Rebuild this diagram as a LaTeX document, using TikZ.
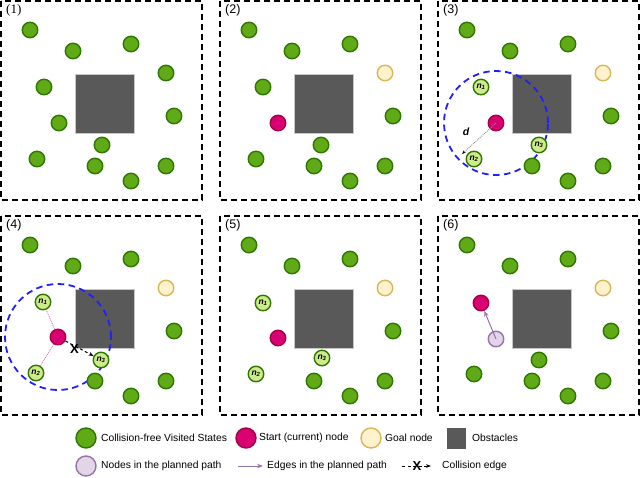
\documentclass[tikz,border=0pt]{standalone}
\usepackage{fontspec}
\setmainfont{Liberation Serif}
\setsansfont{Liberation Sans}
\usetikzlibrary{calc,arrows.meta}

\definecolor{vgreen}{HTML}{60A917}
\definecolor{vgreenD}{HTML}{2D7600}
\definecolor{ngreen}{HTML}{CDEB8B}
\definecolor{startc}{HTML}{D80073}
\definecolor{startD}{HTML}{A50040}
\definecolor{goalc}{HTML}{FFF2CC}
\definecolor{goalD}{HTML}{D6B656}
\definecolor{pathc}{HTML}{E1D5E7}
\definecolor{pathD}{HTML}{9673A6}
\definecolor{obst}{HTML}{595959}
\definecolor{rangeblue}{HTML}{1F1FFF}

\tikzset{
  statenode/.style={circle,draw,line width=1.4pt,minimum size=15.5pt,inner sep=0pt},
  visited/.style={statenode,draw=vgreenD,fill=vgreen},
  startnode/.style={statenode,draw=startD,fill=startc},
  goalnode/.style={statenode,draw=goalD,fill=goalc},
  pathnode/.style={statenode,draw=pathD,fill=pathc},
  nearnode/.style={statenode,draw=vgreenD,fill=ngreen,
    font=\sffamily\bfseries\itshape\fontsize{8.5}{8.5}\selectfont},
  obstacle/.style={draw=black!22,line width=0.8pt,fill=obst,minimum size=59pt,inner sep=0pt},
  panel/.style={line width=1.8pt,dash pattern=on 6pt off 4pt},
  reach/.style={rangeblue,line width=1.8pt,dash pattern=on 6.5pt off 4.5pt},
  tag/.style={anchor=west,inner sep=0pt,font=\sffamily\fontsize{12.5}{12.5}\selectfont},
  legtext/.style={anchor=west,inner sep=0pt,font=\sffamily\fontsize{10.3}{12}\selectfont},
  crossmark/.style={inner sep=0pt,font=\sffamily\bfseries\fontsize{13}{13}\selectfont},
}

\begin{document}
\begin{tikzpicture}[x=1pt,y=-1pt]
  \useasboundingbox (0,0) rectangle (640,477);

  % frames and obstacles
  \foreach \px/\py/\k in {0/0/1,219/0/2,437/0/3,0/215/4,219/215/5,437/215/6}{
    \draw[panel] (\px+1,\py+1) rectangle (\px+202,\py+200);
    \node[obstacle] (obs\k) at (\px+104.5,\py+103.5) {};
  }
  \node[tag,font=\rmfamily\fontsize{13}{13}\selectfont] (tag1) at (6,10) {(1)};
  \node[tag] (tag2) at (225,10) {(2)};
  \node[tag] (tag3) at (443,10) {(3)};
  \node[tag] (tag4) at (6,225) {(4)};
  \node[tag] (tag5) at (225,225) {(5)};
  \node[tag] (tag6) at (443,225) {(6)};

  % (1)
  \foreach \x/\y [count=\i] in {30/30,73/51,131/44,166/73,44/87,174/116,
      59/123,102/145,37/159,95/166,166/166,131/181}
    \node[visited] (a\i) at (\x,\y) {};

  % (2)
  \begin{scope}[shift={(219,0)}]
    \foreach \x/\y [count=\i] in {30/30,73/51,131/44,44/87,174/116,
        102/145,37/159,95/166,166/166,131/181}
      \node[visited] (b\i) at (\x,\y) {};
    \node[goalnode] (goal2) at (166,73) {};
    \node[startnode] (start2) at (59,123) {};
  \end{scope}

  % (3)
  \begin{scope}[shift={(437,0)}]
    \coordinate (c0) at (59,123);
    \draw[reach] (c0) circle[radius=52pt];
    \foreach \x/\y [count=\i] in {30/30,73/51,131/44,174/116,95/166,166/166,131/181}
      \node[visited] (c\i) at (\x,\y) {};
    \node[goalnode] (goal3) at (166,73) {};
    \node[nearnode] (n1c) at (44,87) {n\textsubscript{1}};
    \node[nearnode] (n2c) at (37,159) {n\textsubscript{2}};
    \node[nearnode] (n3c) at (102,145) {n\textsubscript{3}};
    \node[startnode] (start3) at (c0) {};
    \coordinate (rad3) at ($(start3.center)+(-34,31)$);
    \draw[black!45,densely dotted,line width=0.9pt,-{Stealth[length=4pt,black]}]
      (start3.center) -- (rad3);
    \node[font=\sffamily\bfseries\itshape\fontsize{10.5}{10.5}\selectfont] (dlab) at (29,132) {d};
  \end{scope}

  % (4)
  \begin{scope}[shift={(0,215)}]
    \coordinate (d0) at (58,122);
    \draw[reach] (d0) circle[radius=53pt];
    \foreach \x/\y [count=\i] in {30/30,73/51,131/44,174/116,95/166,166/166,131/181}
      \node[visited] (d\i) at (\x,\y) {};
    \node[goalnode] (goal4) at (166,73) {};
    \node[nearnode] (n1d) at (43,87) {n\textsubscript{1}};
    \node[nearnode] (n2d) at (36,158) {n\textsubscript{2}};
    \node[nearnode] (n3d) at (101,145) {n\textsubscript{3}};
    \node[startnode] (start4) at (d0) {};
    \draw[startc!55,densely dotted,line width=0.9pt] (start4) -- (n1d);
    \draw[startc!55,densely dotted,line width=0.9pt] (start4) -- (n2d);
    \draw[line width=1pt,dash pattern=on 3pt off 2.5pt,-{Stealth[length=5pt]}]
      (start4) -- node[crossmark,pos=0.32,below=-2pt] (x4) {X} (n3d);
  \end{scope}

  % (5)
  \begin{scope}[shift={(219,215)}]
    \foreach \x/\y [count=\i] in {30/30,73/51,131/44,174/116,95/166,166/166,131/181}
      \node[visited] (e\i) at (\x,\y) {};
    \node[goalnode] (goal5) at (166,73) {};
    \node[nearnode] (n1e) at (44,88) {n\textsubscript{1}};
    \node[nearnode] (n2e) at (37,159) {n\textsubscript{2}};
    \node[nearnode] (n3e) at (103,143) {n\textsubscript{3}};
    \node[startnode] (start5) at (59,123) {};
  \end{scope}

  % (6)
  \begin{scope}[shift={(437,215)}]
    \foreach \x/\y [count=\i] in {30/30,73/51,131/44,174/116,102/145,37/159,
        95/166,166/166,131/181}
      \node[visited] (f\i) at (\x,\y) {};
    \node[goalnode] (goal6) at (166,73) {};
    \node[startnode] (start6) at (44,88) {};
    \node[pathnode] (path6) at (59,124) {};
    \draw[pathD,line width=1pt,-{Stealth[length=6pt]}] (path6.center) -- (start6);
  \end{scope}

  % legend
  \node[visited,minimum size=20pt] (lgv) at (86,438) {};
  \node[legtext] (lgvt) at (101,438) {Collision-free Visited States};
  \node[startnode,minimum size=20pt] (lgs) at (246,438) {};
  \node[legtext] (lgst) at (259,438) {Start (current) node};
  \node[goalnode,minimum size=20pt] (lgg) at (371,438) {};
  \node[legtext] (lggt) at (385,438) {Goal node};
  \node[obstacle,draw=none,minimum width=19pt,minimum height=21pt] (lgo) at (456.5,438.5) {};
  \node[legtext] (lgot) at (472,438) {Obstacles};

  \node[pathnode,minimum size=20pt] (lgp) at (86,466) {};
  \node[legtext] (lgpt) at (101,466) {Nodes in the planned path};
  \coordinate (lgea) at (238,466);
  \coordinate (lgeb) at (263,466);
  \draw[pathD,line width=1pt,-{Stealth[length=6pt]}] (lgea) -- (lgeb);
  \node[legtext] (lget) at (267,466) {Edges in the planned path};
  \coordinate (lgca) at (402,466);
  \coordinate (lgcb) at (431,466);
  \draw[line width=1pt,dash pattern=on 3pt off 2.5pt,-{Stealth[length=5pt]}]
    (lgca) -- node[crossmark,pos=0.52] (lgx) {X} (lgcb);
  \node[legtext] (lgct) at (442,466) {Collision edge};
\end{tikzpicture}
\end{document}
